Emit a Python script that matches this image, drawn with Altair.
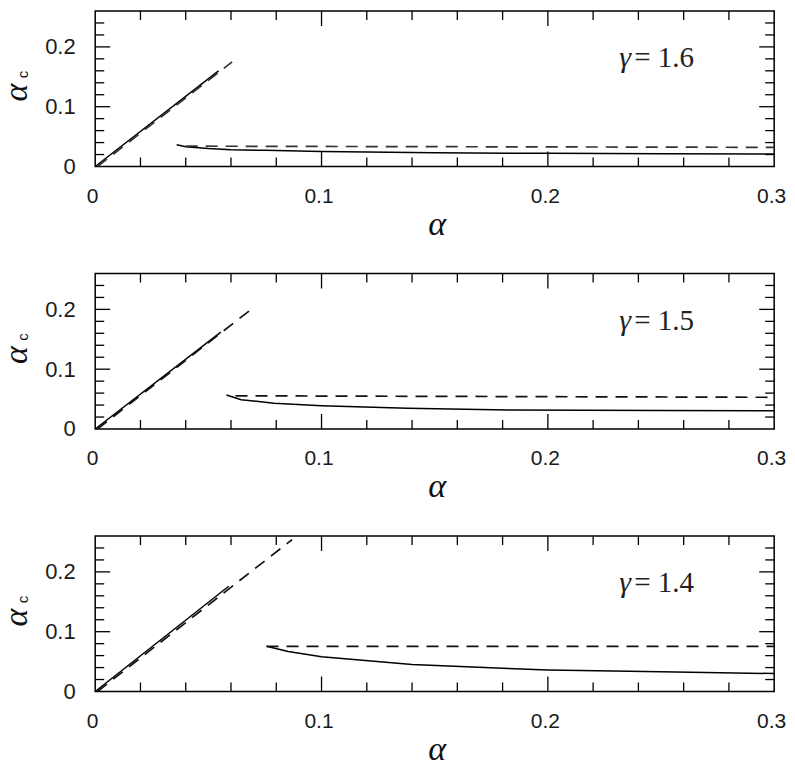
import altair as alt
import pandas as pd

# ---------------- data ----------------
X_DOMAIN = [0.0, 0.3]
Y_DOMAIN = [0.0, 0.26]

gamma_values = ["1.6", "1.5", "1.4"]

# panel gamma = 1.6
p1_up_solid_x = [0.0, 0.0545]
p1_up_solid_y = [0.0, 0.160]
p1_up_dash_x = [0.001, 0.0605]
p1_up_dash_y = [0.0, 0.175]
p1_lo_solid_x = [0.036, 0.040, 0.050, 0.060, 0.075, 0.100, 0.150, 0.200, 0.250, 0.300]
p1_lo_solid_y = [0.0365, 0.033, 0.030, 0.028, 0.027, 0.025, 0.023, 0.022, 0.0215, 0.021]
p1_lo_dash_x = [0.040, 0.300]
p1_lo_dash_y = [0.034, 0.032]

# panel gamma = 1.5
p2_up_solid_x = [0.0, 0.0555]
p2_up_solid_y = [0.0, 0.162]
p2_up_dash_x = [0.001, 0.0706]
p2_up_dash_y = [0.0, 0.205]
p2_lo_solid_x = [0.058, 0.0645, 0.079, 0.100, 0.138, 0.1825, 0.250, 0.300]
p2_lo_solid_y = [0.0567, 0.049, 0.043, 0.039, 0.0345, 0.0317, 0.031, 0.0305]
p2_lo_dash_x = [0.062, 0.300]
p2_lo_dash_y = [0.0555, 0.053]

# panel gamma = 1.4
p3_up_solid_x = [0.0, 0.059]
p3_up_solid_y = [0.0, 0.176]
p3_up_dash_x = [0.001, 0.087]
p3_up_dash_y = [0.0, 0.254]
p3_lo_solid_x = [0.0757, 0.0853, 0.100, 0.140, 0.180, 0.200, 0.250, 0.300]
p3_lo_solid_y = [0.0756, 0.067, 0.058, 0.045, 0.0387, 0.036, 0.033, 0.030]
p3_lo_dash_x = [0.0757, 0.300]
p3_lo_dash_y = [0.0756, 0.0756]

x_labels = [0.0, 0.1, 0.2, 0.3]
y_labels = [0.0, 0.1, 0.2]
x_major = [0.1, 0.2]
x_minor = [0.02, 0.04, 0.06, 0.08, 0.12, 0.14, 0.16, 0.18, 0.22, 0.24, 0.26, 0.28]
y_major = [0.1, 0.2]
y_minor = [0.02, 0.04, 0.06, 0.08, 0.12, 0.14, 0.16, 0.18, 0.22, 0.24]

label_pos_x = 0.2377
label_pos_y = 0.166

# ---------------- layout ----------------
W, H = 679, 155.5
MAJ, MIN = 15, 9
SANS = "Liberation Sans"
SERIF = "Liberation Serif"
LABEL_EXPR = "datum.value == 0 ? '0' : format(datum.value, '.1f')"

xs = alt.Scale(domain=X_DOMAIN, nice=False, zero=False)
ys = alt.Scale(domain=Y_DOMAIN, nice=False, zero=False)


def seg_df(segs):
    rows = []
    for i, (sx, sy) in enumerate(segs):
        for k, (a, b) in enumerate(zip(sx, sy)):
            rows.append({"seg": i, "k": k, "x": a, "y": b})
    return pd.DataFrame(rows)


def ticks(values, length):
    d = pd.DataFrame({"x": values})
    base = alt.Chart(d).mark_rule(color="black", strokeWidth=1.3)
    return [
        base.encode(x=alt.X("x:Q", scale=xs), y=alt.value(H), y2=alt.value(H - length)),
        base.encode(x=alt.X("x:Q", scale=xs), y=alt.value(0), y2=alt.value(length)),
    ]


def yticks(values, length):
    d = pd.DataFrame({"y": values})
    base = alt.Chart(d).mark_rule(color="black", strokeWidth=1.3)
    return [
        base.encode(y=alt.Y("y:Q", scale=ys), x=alt.value(0), x2=alt.value(length)),
        base.encode(y=alt.Y("y:Q", scale=ys), x=alt.value(W), x2=alt.value(W - length)),
    ]


def panel(solid_segs, dash_segs, gval, dash_color):
    xaxis = alt.Axis(
        values=x_labels, labelExpr=LABEL_EXPR, ticks=False, domain=False, grid=False,
        labelPadding=19, labelFlush=False, labelOverlap=False, labelOffset=-3,
        title="α", titleX=W / 2 + 2, titleY=68,
        titleBaseline="alphabetic", titleAlign="center",
    )
    yaxis = alt.Axis(
        values=y_labels, labelExpr=LABEL_EXPR, ticks=False, domain=False, grid=False,
        labelPadding=20, labelFlush=False, labelOverlap=False,
        title="α", titleX=-69, titleY=81, titleAngle=270,
        titleBaseline="alphabetic", titleAlign="center",
    )
    solid = alt.Chart(seg_df(solid_segs)).mark_line(color="black", strokeWidth=1.5).encode(
        x=alt.X("x:Q", scale=xs, axis=xaxis),
        y=alt.Y("y:Q", scale=ys, axis=yaxis),
        detail="seg:N", order="k:Q",
    )
    dashed = alt.Chart(seg_df(dash_segs)).mark_line(
        color=dash_color, strokeWidth=1.7, strokeDash=[12, 8]
    ).encode(
        x=alt.X("x:Q", scale=xs), y=alt.Y("y:Q", scale=ys), detail="seg:N", order="k:Q"
    )
    lab = pd.DataFrame({"x": [label_pos_x], "y": [label_pos_y], "g": ["γ"], "v": ["= " + gval]})
    gtxt = alt.Chart(lab).mark_text(
        font=SERIF, fontSize=30, fontStyle="italic", align="right", baseline="alphabetic",
        color="#222", dx=-2,
    ).encode(x=alt.X("x:Q", scale=xs), y=alt.Y("y:Q", scale=ys), text="g:N")
    vtxt = alt.Chart(lab).mark_text(
        font=SERIF, fontSize=29, align="left", baseline="alphabetic", color="#222", dx=1,
    ).encode(x=alt.X("x:Q", scale=xs), y=alt.Y("y:Q", scale=ys), text="v:N")
    sub = alt.Chart(pd.DataFrame({"t": ["c"]})).mark_text(
        font=SANS, fontSize=15, angle=270, align="center", baseline="middle", color="#111",
    ).encode(x=alt.value(-72), y=alt.value(63.5), text="t:N")
    layers = [solid, dashed] + ticks(x_major, MAJ) + ticks(x_minor, MIN) \
        + yticks(y_major, MAJ) + yticks(y_minor, MIN) + [gtxt, vtxt, sub]
    return alt.layer(*layers).properties(width=W, height=H)


p1 = panel([(p1_up_solid_x, p1_up_solid_y), (p1_lo_solid_x, p1_lo_solid_y)],
           [(p1_up_dash_x, p1_up_dash_y), (p1_lo_dash_x, p1_lo_dash_y)], gamma_values[0], "#333")
p2 = panel([(p2_up_solid_x, p2_up_solid_y), (p2_lo_solid_x, p2_lo_solid_y)],
           [(p2_up_dash_x, p2_up_dash_y), (p2_lo_dash_x, p2_lo_dash_y)], gamma_values[1], "#111")
p3 = panel([(p3_up_solid_x, p3_up_solid_y), (p3_lo_solid_x, p3_lo_solid_y)],
           [(p3_up_dash_x, p3_up_dash_y), (p3_lo_dash_x, p3_lo_dash_y)], gamma_values[2], "#111")

chart = alt.vconcat(p1, p2, p3, spacing=28.5).configure(
    padding={"top": 1, "left": -9.8, "right": -0.6, "bottom": -8}, background="white"
).configure_view(stroke="black", strokeWidth=1.5).configure_axis(
    labelFont=SANS, labelColor="#1a1a1a",
    titleFont=SERIF, titleFontStyle="italic", titleFontWeight="normal",
    titleFontSize=34, titleColor="#111",
).configure_axisX(labelFontSize=21).configure_axisY(labelFontSize=22)

chart.save("out.html", embed_options={"renderer": "svg", "actions": False})
